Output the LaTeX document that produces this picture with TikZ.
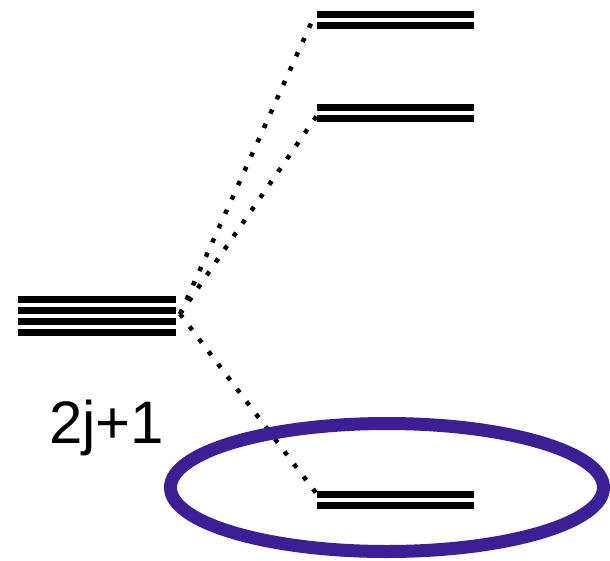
\documentclass[tikz,border=0pt]{standalone}
\usepackage{fontspec}
\setmainfont{Liberation Sans}
\definecolor{ringblue}{RGB}{59,31,148}
\begin{document}
\begin{tikzpicture}[x=1pt,y=-1pt,
  bar/.style={fill=black, draw=none, inner sep=0pt, minimum width=158pt, minimum height=7pt},
  dotline/.style={line width=4.5pt, line cap=butt, dash pattern=on 4.5pt off 11.2pt},
  ring/.style={draw=ringblue, line width=13pt}]
\useasboundingbox (0,0) rectangle (610,560);
% left degenerate level
\node[bar] (l1) at (97,299.5) {};
\node[bar] (l2) at (97,310.5) {};
\node[bar] (l3) at (97,321.5) {};
\node[bar] (l4) at (97,332.5) {};
\coordinate (src) at (180,314);
% split levels
\node[bar, minimum width=157pt] (a1) at (395.5,14.5) {};
\node[bar, minimum width=157pt] (a2) at (395.5,25.5) {};
\node[bar, minimum width=157pt] (b1) at (395.5,107.5) {};
\node[bar, minimum width=157pt] (b2) at (395.5,118.5) {};
\node[bar, minimum width=157pt] (c1) at (395.5,494.5) {};
\node[bar, minimum width=157pt] (c2) at (395.5,505.5) {};
\coordinate (ea) at (313,19);
\coordinate (eb) at (318,114);
\coordinate (ec) at (316,493);
\draw[dotline] (src) -- (ea);
\draw[dotline] (src) -- (eb);
\draw[dotline] (src) -- (ec);
% label
\node[anchor=base west, inner sep=0pt, font=\fontsize{60}{62}\selectfont] (lbl) at (49,443) {2j+1};
% ring
\draw[ring] (387,487.5) ellipse [x radius=216.5, y radius=64];
\end{tikzpicture}
\end{document}
